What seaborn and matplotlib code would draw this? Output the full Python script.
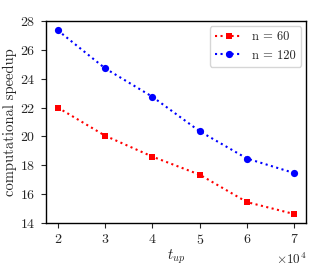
import matplotlib
matplotlib.use('Agg')
import matplotlib.pyplot as plt
import seaborn as sns
import pandas as pd

# data
t_up = [20000, 30000, 40000, 50000, 60000, 70000]
speedup_60 = [22.0, 20.05, 18.6, 17.35, 15.45, 14.62]
speedup_120 = [27.35, 24.72, 22.75, 20.36, 18.47, 17.46]

sns.set_style('ticks')
plt.rcParams['font.family'] = ['cmr10', 'DejaVu Serif']
plt.rcParams['mathtext.fontset'] = 'cm'
plt.rcParams['axes.formatter.use_mathtext'] = True
plt.rcParams['font.size'] = 10

df60 = pd.DataFrame({'t': t_up, 'speedup': speedup_60})
df120 = pd.DataFrame({'t': t_up, 'speedup': speedup_120})

fig = plt.figure(figsize=(3.32, 2.66), dpi=100)
ax = fig.add_axes([0.1386, 0.1617, 0.7831, 0.7593])

sns.lineplot(x='t', y='speedup', data=df60, ax=ax, color='red', marker='s',
             markersize=4.5, markeredgewidth=0, linestyle=':', linewidth=1.5, label='n = 60')
sns.lineplot(x='t', y='speedup', data=df120, ax=ax, color='blue', marker='o',
             markersize=5.2, markeredgewidth=0, linestyle=':', linewidth=1.5, label='n = 120')

ax.set_ylim(14, 28)
ax.set_xlim(17500, 72500)
ax.set_xticks(t_up)
ax.set_yticks([14, 16, 18, 20, 22, 24, 26, 28])
ax.ticklabel_format(axis='x', style='sci', scilimits=(0, 0))
ax.xaxis.get_offset_text().set_fontsize(9.5)
ax.set_xlabel('$t_{up}$', fontsize=10.5, labelpad=0)
ax.set_ylabel('computational speedup', fontsize=10.5, labelpad=2)
ax.tick_params(labelsize=10, length=3.5, width=0.8, direction='out', pad=4)
for s in ax.spines.values():
    s.set_linewidth(1.0)
    s.set_color('black')
ax.legend(loc='upper right', fontsize=9, frameon=True, fancybox=True,
          edgecolor='#cccccc', handlelength=2.2, borderaxespad=0.4)

fig.savefig('out.png', dpi=100)
